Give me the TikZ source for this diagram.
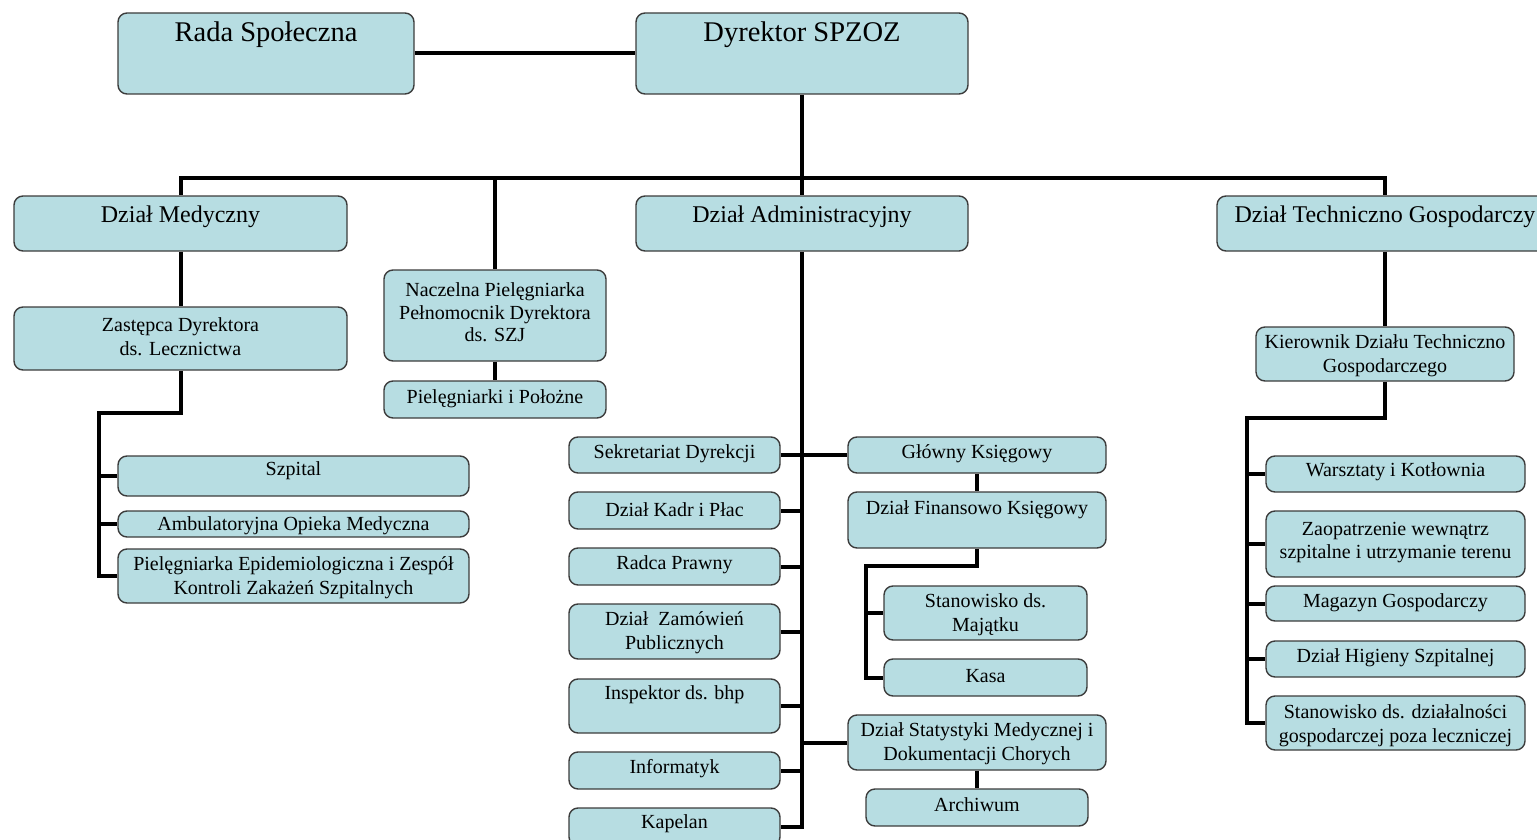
\documentclass[tikz,border=0pt]{standalone}
\usepackage{fontspec}
\setmainfont{Liberation Serif}
\usetikzlibrary{fit}
\definecolor{boxfill}{RGB}{183,221,226}
\definecolor{boxline}{RGB}{60,60,60}
\pgfdeclarelayer{bg}
\pgfsetlayers{bg,main}
\tikzset{
  box/.style={draw=boxline, line width=1.4pt, fill=boxfill, rounded corners=9pt, inner sep=0pt},
  conn/.style={line width=4pt, draw=black},
  big/.style={font=\fontsize{28.5}{32}\selectfont, inner sep=0pt, yshift=-2pt},
  mid/.style={font=\fontsize{24}{28}\selectfont, inner sep=0pt, yshift=-2pt},
  sml/.style={font=\fontsize{20}{23.5}\selectfont, inner sep=0pt, align=center, yshift=-1.5pt},
}
\newcommand{\orgbox}[5]{\node[box, fit={(#2,#3) (#4,#5)}] (#1) {};}
\begin{document}
\begin{tikzpicture}[x=1pt,y=-1pt]
\useasboundingbox (0,0) rectangle (1537,840);
% boxes
\orgbox{rada}{118}{13}{414}{94}
\orgbox{dyr}{636}{13}{968}{94}
\orgbox{med}{14}{196}{347}{251}
\orgbox{adm}{636}{196}{968}{251}
\orgbox{tech}{1217}{196}{1553}{251}
\orgbox{zast}{14}{307}{347}{370}
\orgbox{nacz}{384}{270}{606}{361}
\orgbox{piel}{384}{381}{606}{418}
\orgbox{szp}{118}{456}{469}{496}
\orgbox{amb}{118}{511}{469}{537}
\orgbox{epi}{118}{549}{469}{603}
\orgbox{sek}{569}{437}{780}{473}
\orgbox{kadr}{569}{492}{780}{529}
\orgbox{radca}{569}{548}{780}{585}
\orgbox{zam}{569}{604}{780}{659}
\orgbox{insp}{569}{679}{780}{733}
\orgbox{inf}{569}{752}{780}{789}
\orgbox{kap}{569}{808}{780}{846}
\orgbox{gk}{848}{437}{1106}{473}
\orgbox{dfk}{848}{492}{1106}{548}
\orgbox{maj}{884}{586}{1087}{640}
\orgbox{kasa}{884}{659}{1087}{696}
\orgbox{stat}{848}{715}{1106}{770}
\orgbox{arch}{866}{789}{1088}{826}
\orgbox{kier}{1256}{327}{1514}{381}
\orgbox{warsz}{1266}{456}{1525}{492}
\orgbox{zaop}{1266}{511}{1525}{577}
\orgbox{mag}{1266}{586}{1525}{621}
\orgbox{hig}{1266}{641}{1525}{677}
\orgbox{sdg}{1266}{696}{1525}{750}
% texts
\node[big] (rada-t) at (266,33) {Rada Społeczna};
\node[big] (dyr-t) at (802,33) {Dyrektor SPZOZ};
\node[mid] (med-t) at (180.5,215) {Dział Medyczny};
\node[mid] (adm-t) at (802,215) {Dział Administracyjny};
\node[mid] (tech-t) at (1385,215) {Dział Techniczno Gospodarczy};
\node[sml] (zast-t) at (180.5,335) {Zastępca Dyrektora\\ds. Lecznictwa};
\node[sml, font=\fontsize{20}{22.5}\selectfont] (nacz-t) at (495,311) {Naczelna Pielęgniarka\\Pełnomocnik Dyrektora\\ds. SZJ};
\node[sml] (piel-t) at (495,397) {Pielęgniarki i Położne};
\node[sml] (szp-t) at (293.5,469) {Szpital};
\node[sml] (amb-t) at (293.5,524) {Ambulatoryjna Opieka Medyczna};
\node[sml] (epi-t) at (293.5,576) {Pielęgniarka Epidemiologiczna i Zespół\\Kontroli Zakażeń Szpitalnych};
\node[sml] (sek-t) at (674.5,452) {Sekretariat Dyrekcji};
\node[sml] (kadr-t) at (674.5,508) {Dział Kadr i Płac};
\node[sml] (radca-t) at (674.5,563) {Radca Prawny};
\node[sml] (zam-t) at (674.5,631) {Dział~~Zamówień\\Publicznych};
\node[sml] (insp-t) at (674.5,693) {Inspektor ds. bhp};
\node[sml] (inf-t) at (674.5,767) {Informatyk};
\node[sml] (kap-t) at (674.5,822) {Kapelan};
\node[sml] (gk-t) at (977,452) {Główny Księgowy};
\node[sml] (dfk-t) at (977,508) {Dział Finansowo Księgowy};
\node[sml] (maj-t) at (985.5,613) {Stanowisko ds.\\Majątku};
\node[sml] (kasa-t) at (985.5,675) {Kasa};
\node[sml] (stat-t) at (977,742) {Dział Statystyki Medycznej i\\Dokumentacji Chorych};
\node[sml] (arch-t) at (977,803) {Archiwum};
\node[sml] (kier-t) at (1385,354) {Kierownik Działu Techniczno\\Gospodarczego};
\node[sml] (warsz-t) at (1395.5,470) {Warsztaty i Kotłownia};
\node[sml] (zaop-t) at (1395.5,541) {Zaopatrzenie wewnątrz\\szpitalne i utrzymanie terenu};
\node[sml] (mag-t) at (1395.5,601) {Magazyn Gospodarczy};
\node[sml] (hig-t) at (1395.5,656) {Dział Higieny Szpitalnej};
\node[sml] (sdg-t) at (1395.5,724) {Stanowisko ds. działalności\\gospodarczej poza leczniczej};
% connectors
\coordinate (bus) at (803,178);
\coordinate (mj) at (99,413);
\coordinate (fj) at (866,566);
\coordinate (tj) at (1247,418);
\begin{pgfonlayer}{bg}
\draw[conn] (rada.east) -- (dyr.west);
\draw[conn] (dyr.south) -- (adm.north);
\draw[conn] (med.north) -- (med.north |- bus) -- (tech.north |- bus) -- (tech.north);
\draw[conn] (nacz.north) -- (nacz.north |- bus);
\draw[conn] (med.south) -- (zast.north);
\draw[conn] (zast.south) |- (mj) |- (epi.west);
\draw[conn] (mj |- szp.west) -- (szp.west);
\draw[conn] (mj |- amb.west) -- (amb.west);
\draw[conn] (nacz.south) -- (piel.north);
\draw[conn] (adm.south) -- (adm.south |- kap.east) -- (kap.east);
\foreach \b in {kadr,radca,zam,insp,inf}
  \draw[conn] (\b.east) -- (\b.east -| adm.south);
\draw[conn] (sek.east) -- (gk.west);
\draw[conn] (stat.west) -- (stat.west -| adm.south);
\draw[conn] (gk.south) -- (dfk.north);
\draw[conn] (dfk.south) |- (fj) |- (kasa.west);
\draw[conn] (fj |- maj.west) -- (maj.west);
\draw[conn] (stat.south) -- (arch.north);
\draw[conn] (tech.south) -- (kier.north);
\draw[conn] (kier.south) |- (tj) |- (sdg.west);
\foreach \b in {warsz,zaop,mag,hig}
  \draw[conn] (tj |- \b.west) -- (\b.west);
\end{pgfonlayer}
\end{tikzpicture}
\end{document}
